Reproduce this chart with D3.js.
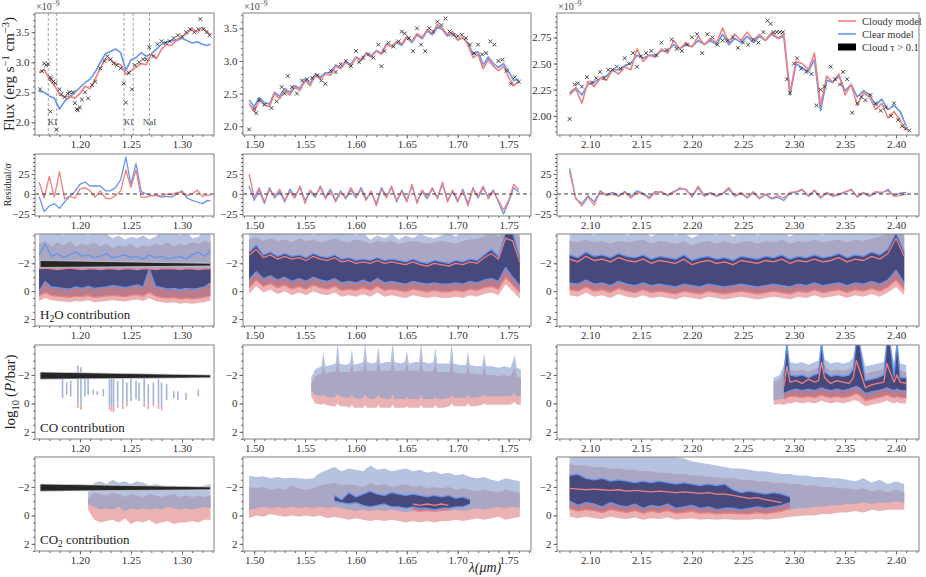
<!DOCTYPE html>
<html>
<head>
<meta charset="utf-8">
<script src="https://cdn.jsdelivr.net/npm/d3@7"></script>
<style>
  body { margin: 0; background: #fff; }
  svg text { font-family: "Liberation Serif", "DejaVu Serif", serif; }
</style>
</head>
<body>
<div id="chart"></div>
<script>
// ---------- flux models (x1e-9) ----------
var lamF1 = [1.160,1.165,1.170,1.175,1.180,1.185,1.190,1.195,1.200,1.205,1.210,1.215,1.220,1.225,1.230,1.235,1.240,1.245,1.250,1.255,1.260,1.265,1.270,1.275,1.280,1.285,1.290,1.295,1.300,1.305,1.310,1.315,1.320,1.325,1.328];
var redF1 = [2.83,2.88,2.72,2.62,2.46,2.42,2.44,2.40,2.48,2.60,2.56,2.72,2.90,3.06,3.04,2.98,2.96,2.80,2.86,2.92,2.98,2.96,3.14,3.06,3.22,3.30,3.28,3.38,3.42,3.48,3.56,3.50,3.58,3.50,3.46];
var blueF1 = [2.52,2.50,2.44,2.40,2.22,2.35,2.42,2.50,2.58,2.66,2.72,2.84,3.00,3.14,3.18,3.22,3.16,2.86,3.04,3.08,3.16,3.10,3.14,3.22,3.30,3.34,3.36,3.36,3.40,3.36,3.32,3.34,3.30,3.28,3.30];

var lamF2 = [1.495,1.500,1.505,1.510,1.515,1.520,1.525,1.530,1.535,1.540,1.545,1.550,1.555,1.560,1.565,1.570,1.575,1.580,1.585,1.590,1.595,1.600,1.605,1.610,1.615,1.620,1.625,1.630,1.635,1.640,1.645,1.650,1.655,1.660,1.665,1.670,1.675,1.680,1.685,1.690,1.695,1.700,1.705,1.710,1.715,1.720,1.725,1.730,1.735,1.740,1.745,1.750,1.755,1.760];
var redF2 = [2.35,2.22,2.40,2.33,2.30,2.50,2.42,2.55,2.48,2.60,2.55,2.70,2.62,2.78,2.72,2.80,2.78,2.92,2.88,2.98,2.92,3.05,3.00,3.12,3.06,3.15,3.10,3.25,3.22,3.30,3.26,3.38,3.30,3.42,3.36,3.48,3.42,3.56,3.50,3.40,3.45,3.32,3.36,3.25,3.05,3.10,2.88,3.02,2.92,2.85,2.92,2.75,2.62,2.70];
var blueF2 = [2.40,2.30,2.44,2.36,2.34,2.52,2.46,2.58,2.52,2.62,2.58,2.72,2.66,2.80,2.75,2.82,2.82,2.94,2.90,2.99,2.95,3.06,3.02,3.12,3.08,3.16,3.12,3.26,3.22,3.28,3.24,3.36,3.28,3.40,3.34,3.46,3.40,3.52,3.48,3.38,3.42,3.32,3.36,3.28,3.10,3.14,2.94,3.06,2.96,2.90,2.96,2.84,2.70,2.72];

var lamF3 = [2.080,2.086,2.092,2.098,2.104,2.110,2.116,2.122,2.128,2.134,2.140,2.146,2.152,2.158,2.164,2.170,2.176,2.182,2.188,2.194,2.200,2.206,2.212,2.218,2.224,2.230,2.236,2.242,2.248,2.254,2.260,2.266,2.272,2.278,2.284,2.290,2.296,2.302,2.308,2.314,2.320,2.326,2.332,2.338,2.344,2.350,2.356,2.362,2.368,2.374,2.380,2.386,2.392,2.398,2.404,2.410];
var redF3 = [2.20,2.26,2.12,2.33,2.28,2.36,2.34,2.44,2.40,2.47,2.44,2.64,2.52,2.58,2.56,2.64,2.60,2.72,2.64,2.70,2.66,2.76,2.68,2.74,2.70,2.84,2.70,2.78,2.72,2.80,2.72,2.78,2.72,2.80,2.74,2.78,2.22,2.52,2.50,2.44,2.60,2.10,2.38,2.32,2.40,2.20,2.30,2.10,2.22,2.18,2.06,2.12,1.98,2.04,1.96,1.86];
var blueF3 = [2.22,2.27,2.20,2.30,2.32,2.36,2.38,2.44,2.44,2.48,2.50,2.58,2.55,2.58,2.58,2.62,2.62,2.68,2.64,2.68,2.66,2.72,2.68,2.72,2.68,2.78,2.68,2.74,2.70,2.76,2.70,2.76,2.72,2.78,2.74,2.76,2.20,2.50,2.46,2.42,2.54,2.05,2.34,2.32,2.38,2.24,2.30,2.18,2.24,2.20,2.10,2.16,2.06,2.10,2.04,1.90];

// ---------- observed points ----------
var dataL1 = [1.161,1.163,1.165,1.167,1.169,1.171,1.171,1.172,1.174,1.176,1.177,1.180,1.182,1.185,1.188,1.190,1.193,1.195,1.197,1.198,1.200,1.202,1.205,1.208,1.212,1.215,1.220,1.224,1.227,1.230,1.233,1.236,1.240,1.243,1.245,1.248,1.251,1.254,1.258,1.262,1.265,1.268,1.272,1.276,1.280,1.284,1.288,1.292,1.296,1.300,1.304,1.308,1.312,1.316,1.318,1.321,1.324,1.327];
var dataF1 = [2.55,2.85,2.98,2.95,2.97,2.75,2.18,2.72,2.68,2.65,1.88,2.55,2.47,2.42,2.48,2.50,2.50,2.32,2.22,2.20,2.25,2.38,2.50,2.40,2.62,2.68,2.90,3.02,3.10,3.05,2.98,2.95,2.90,2.65,2.33,2.82,2.55,2.95,3.00,3.05,3.05,3.25,3.10,3.30,3.35,3.32,3.35,3.40,3.45,3.43,3.50,3.55,3.50,3.55,3.72,3.55,3.50,3.45];
var dataL2 = [1.495,1.500,1.502,1.505,1.510,1.517,1.522,1.527,1.530,1.533,1.537,1.542,1.547,1.552,1.557,1.562,1.566,1.570,1.575,1.580,1.585,1.590,1.595,1.600,1.603,1.607,1.612,1.617,1.622,1.625,1.628,1.632,1.637,1.642,1.645,1.648,1.652,1.656,1.660,1.664,1.668,1.672,1.676,1.680,1.684,1.688,1.692,1.696,1.700,1.704,1.708,1.712,1.716,1.720,1.724,1.728,1.732,1.736,1.740,1.744,1.748,1.752,1.756,1.760];
var dataF2 = [1.95,2.27,2.20,2.40,2.33,2.28,2.38,2.60,2.50,2.77,2.60,2.50,2.70,2.72,2.74,2.78,2.70,2.65,2.85,2.83,2.95,3.00,2.92,3.15,2.98,3.05,3.10,3.05,3.25,2.92,3.15,3.28,3.22,3.30,3.45,3.42,3.35,3.15,3.50,3.25,3.15,3.50,3.45,3.60,3.55,3.65,3.45,3.40,3.38,3.40,3.35,3.25,3.12,3.25,3.10,3.12,3.30,3.25,3.00,3.02,2.85,2.65,2.75,2.68];
var dataL3 = [2.080,2.085,2.088,2.092,2.097,2.102,2.106,2.110,2.114,2.118,2.122,2.126,2.130,2.134,2.138,2.142,2.146,2.150,2.155,2.160,2.165,2.170,2.175,2.180,2.185,2.190,2.195,2.200,2.205,2.210,2.215,2.220,2.225,2.230,2.235,2.240,2.245,2.250,2.255,2.260,2.265,2.270,2.274,2.277,2.280,2.283,2.286,2.289,2.293,2.296,2.300,2.303,2.307,2.312,2.317,2.322,2.326,2.330,2.336,2.340,2.345,2.348,2.352,2.357,2.362,2.366,2.370,2.375,2.380,2.385,2.390,2.395,2.398,2.402,2.406,2.410,2.413];
var dataF3 = [1.97,2.30,2.31,2.28,2.37,2.32,2.36,2.42,2.36,2.44,2.44,2.47,2.45,2.55,2.50,2.60,2.47,2.57,2.60,2.62,2.58,2.70,2.63,2.73,2.64,2.62,2.68,2.75,2.78,2.60,2.78,2.75,2.68,2.72,2.72,2.75,2.65,2.70,2.68,2.73,2.70,2.80,2.91,2.88,2.80,2.80,2.80,2.80,2.35,2.22,2.50,2.55,2.45,2.42,2.40,2.10,2.25,2.28,2.47,2.35,2.30,2.42,2.35,2.03,2.12,2.18,2.15,2.20,2.12,2.05,2.08,2.00,2.12,1.96,1.90,1.88,1.86];

// ---------- residuals ----------
var redR1 = [15,-5,22,-4,28,-6,-3,-5,6,8,4,-4,4,-5,-6,-2,4,30,8,30,-4,-4,-2,-1,-3,0,-1,2,2,-2,0,5,-3,-1,-2];
var blueR1 = [-3,-22,-15,-12,-18,-10,-3,3,12,15,10,10,10,4,4,8,18,46,12,38,3,0,-2,-2,-4,-3,-4,0,4,-5,-8,-10,-12,-8,-9];
var redR2 = [25,-4,8,-10,5,-3,6,-8,3,-5,10,-12,5,-2,8,-6,4,-10,2,-4,8,-3,5,-8,4,-15,6,-5,10,-8,3,-10,12,-12,5,-4,8,-6,15,-10,5,-8,4,-15,6,-3,10,-6,3,-8,-20,-8,12,5];
var blueR2 = [10,-8,5,-12,8,-5,3,-10,6,-3,8,-8,3,-4,10,-4,6,-8,4,-6,5,-5,8,-6,2,-12,8,-3,8,-10,5,-8,10,-10,3,-6,6,-4,12,-8,3,-10,6,-12,8,-5,8,-4,5,-10,-25,-10,8,2];
var redR3 = [28,-5,-15,-4,-14,3,-2,0,-3,2,-5,2,0,-6,2,3,-2,2,8,5,-3,10,-2,2,-2,1,8,-2,2,-4,3,-5,0,-5,-2,-5,2,3,6,-2,5,-4,2,-2,0,3,5,-3,2,-2,3,2,4,-3,-2,0];
var blueR3 = [32,-6,-12,-2,-10,4,-1,2,-2,3,-3,4,1,-4,3,2,-1,3,6,6,-4,8,-3,1,-3,0,6,-3,1,-5,2,-6,-1,-6,-4,-8,1,2,5,-3,4,-5,1,-3,-1,2,6,-4,1,-3,2,1,6,-2,1,2];

// ---------- contribution functions, log10(P/bar) ----------
var lamK1 = [1.160,1.166,1.172,1.178,1.184,1.190,1.196,1.202,1.208,1.214,1.220,1.226,1.232,1.238,1.244,1.250,1.256,1.262,1.268,1.274,1.280,1.286,1.292,1.298,1.304,1.310,1.316,1.322,1.328];
var lamK2 = [1.495,1.502,1.509,1.516,1.523,1.530,1.537,1.544,1.551,1.558,1.565,1.572,1.579,1.586,1.593,1.600,1.607,1.614,1.621,1.628,1.635,1.642,1.649,1.656,1.663,1.670,1.677,1.684,1.691,1.698,1.705,1.712,1.719,1.726,1.733,1.740,1.747,1.754,1.761];
var lamK3 = [2.080,2.088,2.096,2.104,2.112,2.120,2.128,2.136,2.144,2.152,2.160,2.168,2.176,2.184,2.192,2.200,2.208,2.216,2.224,2.232,2.240,2.248,2.256,2.264,2.272,2.280,2.288,2.296,2.304,2.312,2.320,2.328,2.336,2.344,2.352,2.360,2.368,2.376,2.384,2.392,2.400,2.408];

// H2O
var h2oA_bOut1 = [-4.3,-4.3,-4.1,-4.3,-4.0,-4.3,-4.2,-4.3,-4.0,-4.3,-4.3,-4.1,-3.8,-4.0,-3.7,-3.9,-3.8,-4.0,-3.7,-3.9,-4.3,-4.2,-4.3,-4.0,-4.3,-3.8,-3.9,-4.3,-4.3];
var h2oA_rOut1 = [-3.4,-3.6,-3.2,-3.5,-3.3,-3.6,-3.2,-3.4,-3.3,-3.5,-3.2,-3.4,-3.1,-3.3,-3.2,-3.4,-3.1,-3.3,-3.2,-3.4,-3.3,-3.5,-3.2,-3.4,-3.3,-3.5,-3.4,-3.6,-3.5];
var h2oA_bIn1 = [-2.6,-3.4,-2.5,-2.7,-2.4,-2.6,-2.8,-2.5,-2.6,-2.4,-2.5,-2.7,-2.4,-2.5,-2.6,-2.4,-2.5,-2.3,-2.6,-2.4,-2.5,-2.3,-2.4,-2.5,-2.3,-2.6,-2.8,-2.5,-2.9];
var h2oA_rIn1 = [-1.6,-1.65,-1.6,-1.55,-1.6,-1.65,-1.6,-1.55,-1.6,-1.6,-1.55,-1.6,-1.6,-1.55,-1.6,-1.6,-1.55,-1.6,-1.6,-1.55,-1.6,-1.6,-1.6,-1.55,-1.6,-1.6,-1.55,-1.6,-1.6];
var h2oA_bIn2 = [0.0,-0.7,-0.3,-0.25,-0.2,-0.15,-0.3,-0.2,-0.35,-0.2,-0.25,-0.3,-0.4,-0.35,-0.25,-0.35,-0.45,-0.3,-1.6,-0.35,-0.25,-0.15,-0.2,-0.1,-0.2,-0.15,-0.2,-0.3,-0.6];
var h2oA_rIn2 = [0.35,0.1,0.3,0.35,0.4,0.45,0.35,0.4,0.3,0.45,0.4,0.35,0.3,0.35,0.4,0.3,0.25,0.35,0.1,0.35,0.45,0.5,0.45,0.55,0.5,0.55,0.5,0.45,0.3];
var h2oA_rOut2 = [0.7,0.5,0.65,0.7,0.75,0.8,0.7,0.75,0.65,0.8,0.75,0.7,0.65,0.7,0.75,0.65,0.6,0.7,0.5,0.7,0.8,0.85,0.8,0.9,0.85,0.9,0.85,0.8,0.65];

var h2oB_bOut1 = [-4.3,-4.3,-4.2,-4.3,-4.1,-4.3,-4.2,-4.3,-4.3,-4.0,-4.3,-4.2,-4.3,-4.1,-4.3,-4.0,-4.2,-3.7,-4.0,-3.8,-4.1,-3.7,-4.0,-3.8,-4.1,-3.9,-3.8,-4.0,-4.2,-3.9,-4.3,-4.3,-4.2,-4.3,-4.3,-4.3,-4.3,-4.3,-4.3];
var h2oB_rOut1 = [-3.7,-3.9,-3.6,-3.8,-3.6,-3.7,-3.5,-3.8,-3.6,-3.7,-3.5,-3.6,-3.8,-3.6,-3.5,-3.7,-3.6,-3.4,-3.6,-3.5,-3.6,-3.4,-3.5,-3.6,-3.5,-3.4,-3.5,-3.6,-3.5,-3.4,-3.6,-3.7,-3.8,-3.9,-4.2,-3.9,-4.3,-4.2,-3.9];
var h2oB_bIn1 = [-2.8,-3.3,-2.6,-2.8,-2.5,-2.7,-2.5,-2.6,-2.4,-2.7,-2.5,-2.4,-2.6,-2.3,-2.4,-2.2,-2.3,-2.2,-2.4,-2.2,-2.3,-2.2,-2.1,-2.3,-2.1,-2.0,-2.2,-2.1,-2.0,-2.2,-2.1,-2.3,-2.2,-2.6,-3.0,-2.5,-4.2,-4.2,-2.4];
var h2oB_rIn1 = [-2.6,-3.0,-2.4,-2.6,-2.3,-2.5,-2.3,-2.4,-2.2,-2.5,-2.3,-2.2,-2.4,-2.1,-2.2,-2.0,-2.1,-2.0,-2.2,-2.0,-2.1,-2.0,-1.9,-2.1,-1.9,-1.8,-2.0,-1.9,-1.8,-2.0,-1.9,-2.1,-2.0,-2.4,-2.7,-2.3,-3.8,-3.6,-2.1];
var h2oB_bIn2 = [-0.8,-1.4,-0.9,-1.1,-0.8,-1.0,-0.7,-0.9,-0.7,-1.0,-0.8,-0.7,-0.9,-0.6,-0.7,-0.6,-0.8,-0.6,-0.9,-0.6,-0.7,-0.6,-0.5,-0.7,-0.6,-0.5,-0.6,-0.5,-0.5,-0.6,-0.5,-0.7,-0.6,-0.8,-0.9,-0.7,-1.7,-1.0,-0.4];
var h2oB_rIn2 = [-0.25,-0.8,-0.35,-0.55,-0.25,-0.45,-0.15,-0.35,-0.15,-0.45,-0.25,-0.15,-0.35,-0.05,-0.15,-0.05,-0.25,-0.05,-0.35,-0.05,-0.15,-0.05,0.05,-0.15,-0.05,0.05,-0.05,0.05,0.05,-0.05,0.05,-0.15,-0.05,-0.25,-0.35,-0.15,-1.0,-0.45,0.1];
var h2oB_rOut2 = [0.2,-0.35,0.1,-0.1,0.2,0.0,0.3,0.1,0.3,0.0,0.2,0.3,0.1,0.4,0.3,0.4,0.2,0.4,0.1,0.4,0.3,0.4,0.5,0.3,0.4,0.5,0.4,0.5,0.5,0.4,0.5,0.3,0.4,0.2,0.1,0.3,-0.5,0.0,0.55];

var h2oC_bOut1 = [-4.3,-4.2,-4.3,-4.0,-4.3,-4.1,-4.3,-4.0,-4.2,-4.3,-3.9,-4.2,-4.3,-4.0,-4.2,-3.8,-4.1,-4.3,-4.0,-4.3,-3.9,-4.2,-4.3,-4.0,-4.3,-4.2,-4.3,-3.9,-4.3,-4.1,-4.3,-4.0,-4.3,-4.3,-4.1,-4.3,-4.2,-4.3,-4.3,-4.3,-4.3,-4.3];
var h2oC_rOut1 = [-3.6,-3.5,-3.7,-3.5,-3.6,-3.4,-3.6,-3.5,-3.6,-3.7,-3.4,-3.6,-3.5,-3.4,-3.6,-3.3,-3.5,-3.6,-3.4,-3.6,-3.4,-3.5,-3.6,-3.4,-3.6,-3.5,-3.7,-3.4,-3.6,-3.5,-3.7,-3.5,-3.6,-3.7,-3.5,-3.7,-3.6,-3.8,-3.9,-4.1,-4.3,-4.0];
var h2oC_bIn1 = [-2.6,-2.4,-2.8,-2.5,-2.6,-2.4,-2.7,-2.5,-2.4,-2.6,-2.3,-2.5,-2.4,-2.3,-2.6,-2.2,-2.4,-2.5,-2.3,-2.4,-2.2,-2.5,-2.4,-2.3,-2.5,-2.4,-2.6,-2.3,-2.5,-2.4,-2.6,-2.4,-2.5,-2.7,-2.4,-2.6,-2.5,-2.8,-2.6,-3.0,-4.2,-2.8];
var h2oC_rIn1 = [-2.3,-2.1,-2.5,-2.2,-2.3,-2.1,-2.4,-2.2,-2.1,-2.3,-2.0,-2.2,-2.1,-2.0,-2.3,-1.9,-2.1,-2.2,-2.0,-2.1,-1.9,-2.2,-2.1,-2.0,-2.2,-2.1,-2.3,-2.0,-2.2,-2.1,-2.3,-2.1,-2.2,-2.4,-2.1,-2.3,-2.2,-2.5,-2.3,-2.7,-3.8,-2.5];
var h2oC_bIn2 = [-0.6,-0.5,-0.8,-0.5,-0.6,-0.4,-0.7,-0.5,-0.4,-0.6,-0.4,-0.5,-0.4,-0.3,-0.5,-0.4,-0.3,-0.5,-0.4,-0.3,-0.4,-0.5,-0.4,-0.3,-0.4,-0.5,-0.4,-0.3,-0.5,-0.4,-0.6,-0.4,-0.5,-0.6,-0.4,-0.6,-0.5,-0.7,-0.5,-0.8,-1.5,-0.6];
var h2oC_rIn2 = [-0.1,0.0,-0.3,0.0,-0.1,0.1,-0.2,0.0,0.1,-0.1,0.1,0.0,0.1,0.2,0.0,0.1,0.2,0.0,0.1,0.2,0.1,0.0,0.1,0.2,0.1,0.0,0.1,0.2,0.0,0.1,-0.1,0.1,0.0,-0.1,0.1,-0.1,0.0,-0.2,0.0,-0.3,-0.8,-0.1];
var h2oC_rOut2 = [0.3,0.4,0.1,0.4,0.3,0.5,0.2,0.4,0.5,0.3,0.5,0.4,0.5,0.6,0.4,0.5,0.6,0.4,0.5,0.6,0.5,0.4,0.5,0.6,0.5,0.4,0.5,0.6,0.4,0.5,0.3,0.5,0.4,0.3,0.5,0.3,0.4,0.2,0.4,0.1,-0.3,0.3];

// CO
var coA_lam = [1.183,1.187,1.191,1.198,1.201,1.205,1.208,1.213,1.217,1.223,1.229,1.231,1.233,1.237,1.242,1.246,1.250,1.255,1.258,1.263,1.267,1.272,1.277,1.280,1.285,1.292,1.296,1.304,1.316];
var coA_top = [-1.76,-1.46,-1.59,-2.66,-2.54,-1.71,-1.76,-0.98,-0.85,-1.02,-1.71,-1.83,-1.71,-1.59,-1.71,-1.46,-1.76,-1.59,-1.46,-1.71,-1.34,-1.46,-1.71,-1.46,-1.34,-0.85,-0.85,-0.73,-0.98];
var coA_bot = [-0.37,-0.59,-0.49,0.0,0.1,-0.49,-0.61,-0.61,-0.61,-0.49,0.1,0.2,0.25,0.0,0.1,-0.1,-0.17,-0.29,-0.17,-0.05,0.1,-0.1,0.1,0.2,-0.24,-0.37,-0.24,-0.24,-0.49];
var coA_red = [null,null,null,0.3,0.45,null,null,null,null,null,0.45,0.55,0.6,0.3,0.4,0.2,null,null,null,0.25,0.4,0.2,0.4,0.5,null,null,null,null,null];

var coB_lam = [1.556,1.560,1.566,1.568,1.570,1.576,1.580,1.582,1.584,1.590,1.594,1.596,1.598,1.603,1.607,1.609,1.611,1.616,1.620,1.622,1.624,1.630,1.634,1.636,1.638,1.644,1.648,1.650,1.652,1.658,1.662,1.664,1.666,1.672,1.676,1.678,1.680,1.686,1.692,1.694,1.696,1.702,1.708,1.710,1.712,1.718,1.724,1.726,1.728,1.734,1.740,1.746,1.752,1.756,1.758,1.762];
var coB_bOut1 = [-1.8,-2.4,-2.6,-3.6,-2.6,-2.7,-2.8,-4.3,-2.8,-2.7,-2.8,-3.8,-2.7,-2.8,-2.9,-4.3,-2.9,-2.8,-2.9,-4.0,-2.8,-2.9,-2.9,-4.3,-2.9,-2.8,-2.9,-3.7,-2.8,-2.9,-2.9,-4.3,-2.9,-2.8,-2.9,-3.9,-2.8,-2.8,-2.8,-4.3,-2.8,-2.7,-2.7,-3.6,-2.7,-2.6,-2.6,-3.5,-2.6,-2.6,-2.5,-2.6,-2.5,-3.4,-2.5,-2.4];
var coB_rOut1 = [-1.4,-1.9,-2.1,-2.7,-2.1,-2.2,-2.2,-3.0,-2.2,-2.2,-2.2,-2.8,-2.2,-2.3,-2.3,-3.1,-2.3,-2.3,-2.3,-2.9,-2.3,-2.3,-2.3,-3.1,-2.3,-2.3,-2.3,-2.8,-2.3,-2.3,-2.3,-3.1,-2.3,-2.2,-2.3,-2.9,-2.2,-2.2,-2.2,-3.0,-2.2,-2.1,-2.1,-2.7,-2.1,-2.1,-2.0,-2.6,-2.0,-2.0,-1.9,-2.0,-1.9,-2.5,-1.9,-1.8];
var coB_bOut2 = [-0.9,-0.6,-0.5,-0.6,-0.5,-0.4,-0.5,-0.7,-0.5,-0.4,-0.4,-0.6,-0.4,-0.3,-0.4,-0.6,-0.4,-0.3,-0.4,-0.6,-0.4,-0.3,-0.3,-0.6,-0.3,-0.3,-0.3,-0.5,-0.3,-0.3,-0.3,-0.6,-0.3,-0.3,-0.3,-0.5,-0.3,-0.3,-0.4,-0.6,-0.4,-0.4,-0.4,-0.6,-0.4,-0.4,-0.5,-0.6,-0.5,-0.5,-0.5,-0.5,-0.5,-0.7,-0.5,-0.5];
var coB_rOut2 = [-0.5,0.0,0.1,0.0,0.1,0.2,0.2,0.0,0.2,0.2,0.3,0.1,0.3,0.3,0.3,0.1,0.3,0.3,0.3,0.1,0.3,0.3,0.3,0.1,0.3,0.3,0.3,0.2,0.3,0.3,0.3,0.1,0.3,0.3,0.3,0.1,0.3,0.3,0.2,0.0,0.2,0.2,0.2,0.0,0.2,0.2,0.1,0.0,0.1,0.1,0.1,0.1,0.1,-0.1,0.1,0.1];

var coC_lam = [2.280,2.286,2.290,2.293,2.296,2.302,2.308,2.314,2.320,2.324,2.327,2.330,2.336,2.342,2.348,2.354,2.358,2.361,2.364,2.370,2.376,2.382,2.388,2.391,2.394,2.398,2.401,2.404,2.410];
var coC_bOut1 = [-1.8,-2.0,-2.7,-4.3,-2.9,-2.8,-2.9,-2.7,-2.9,-3.0,-4.3,-3.1,-2.8,-2.9,-2.8,-2.9,-3.2,-4.3,-4.3,-2.6,-2.7,-2.8,-2.9,-4.3,-4.3,-2.8,-4.3,-2.8,-2.7];
var coC_rOut1 = [-1.5,-1.7,-2.2,-3.0,-2.3,-2.3,-2.4,-2.2,-2.4,-2.5,-3.2,-2.6,-2.3,-2.4,-2.3,-2.4,-2.6,-3.3,-3.0,-2.1,-2.2,-2.3,-2.4,-3.2,-3.0,-2.3,-3.2,-2.3,-2.2];
var coC_bIn1 = [null,null,-1.9,-4.3,-2.0,-1.9,-2.0,-1.8,-2.0,-2.1,-4.3,-2.2,-1.9,-2.0,-1.9,-2.0,-2.4,-4.3,-4.3,-1.6,-1.7,-1.8,-2.0,-4.3,-4.3,-1.9,-4.3,-1.8,-1.8];
var coC_rIn1 = [null,null,-1.2,-2.6,-1.5,-1.6,-1.4,-1.7,-1.5,-1.6,-2.9,-1.8,-1.4,-1.6,-1.5,-1.4,-1.8,-3.0,-2.4,-1.1,-1.3,-1.4,-1.5,-2.8,-2.2,-1.5,-2.0,-1.5,-1.4];
var coC_bIn2 = [null,null,-0.7,-0.8,-0.9,-1.0,-0.9,-1.0,-0.9,-1.0,-1.1,-1.0,-0.9,-1.0,-0.9,-1.0,-1.1,-1.2,-1.1,-0.7,-0.8,-0.9,-1.0,-1.1,-1.0,-0.9,-1.0,-0.9,-0.9];
var coC_rIn2 = [null,null,-0.3,-0.4,-0.5,-0.5,-0.4,-0.5,-0.4,-0.5,-0.6,-0.5,-0.4,-0.5,-0.4,-0.5,-0.6,-0.7,-0.6,-0.2,-0.3,-0.4,-0.5,-0.6,-0.5,-0.4,-0.5,-0.4,-0.4];
var coC_bOut2 = [-0.2,-0.3,-0.3,-0.4,-0.5,-0.5,-0.4,-0.5,-0.4,-0.5,-0.6,-0.5,-0.4,-0.5,-0.4,-0.5,-0.6,-0.7,-0.6,-0.2,-0.3,-0.4,-0.5,-0.6,-0.5,-0.4,-0.5,-0.4,-0.4];
var coC_rOut2 = [0.1,0.05,0.1,0.0,0.0,-0.1,0.0,-0.1,0.0,-0.1,-0.2,-0.1,0.0,-0.1,0.0,-0.1,-0.2,-0.2,-0.1,0.2,0.1,0.0,-0.1,-0.2,-0.1,0.0,-0.1,0.0,0.0];

// CO2
var co2A_lam = [1.208,1.214,1.220,1.226,1.232,1.238,1.244,1.250,1.256,1.262,1.268,1.274,1.280,1.286,1.292,1.298,1.304,1.310,1.316,1.322,1.328];
var co2A_bOut1 = [-1.6,-2.3,-2.4,-2.2,-2.5,-2.3,-2.4,-2.2,-2.4,-2.3,-2.1,-2.2,-2.1,-2.0,-2.1,-2.0,-2.1,-1.9,-2.0,-2.1,-2.2];
var co2A_rOut1 = [-1.2,-1.6,-1.5,-1.4,-1.6,-1.5,-1.3,-1.5,-1.4,-1.3,-1.5,-1.4,-1.3,-1.4,-1.5,-1.3,-1.4,-1.3,-1.4,-1.3,-1.4];
var co2A_bOut2 = [-0.8,-0.6,-0.4,-0.5,-0.4,-0.6,-0.3,-0.5,-0.4,-0.5,-0.4,-0.5,-0.4,-0.6,-0.5,-0.4,-0.5,-0.4,-0.5,-0.6,-0.5];
var co2A_rOut2 = [-0.4,0.3,0.5,0.4,0.3,0.5,0.2,0.6,0.4,0.5,0.3,0.6,0.5,0.4,0.6,0.5,0.5,0.4,0.5,0.3,0.3];

var co2B_bOut1 = [-2.8,-2.7,-2.75,-2.6,-2.7,-2.6,-2.65,-2.6,-2.55,-2.6,-3.0,-3.2,-3.4,-3.1,-3.3,-3.2,-3.1,-3.5,-3.2,-3.3,-3.1,-3.2,-3.3,-3.1,-3.2,-3.0,-3.1,-2.9,-3.0,-2.8,-2.9,-2.7,-2.6,-2.7,-2.5,-2.4,-2.6,-2.5,-2.4];
var co2B_rOut1 = [-2.0,-1.9,-2.0,-1.8,-1.9,-1.8,-2.1,-1.9,-1.8,-1.9,-2.1,-2.2,-2.3,-2.1,-2.2,-2.1,-2.0,-2.3,-2.1,-2.2,-2.0,-2.1,-2.2,-2.0,-2.1,-1.9,-2.0,-1.9,-2.0,-1.8,-1.9,-1.8,-1.7,-1.8,-1.7,-1.6,-1.8,-1.7,-1.6];
var co2B_bOut2 = [-0.4,-0.5,-0.6,-0.5,-0.6,-0.5,-0.6,-0.5,-0.6,-0.5,-0.6,-0.5,-0.6,-0.5,-0.4,-0.3,-0.4,-0.3,-0.4,-0.3,-0.4,-0.3,-0.2,-0.3,-0.2,-0.3,-0.2,-0.3,-0.3,-0.4,-0.3,-0.4,-0.5,-0.4,-0.5,-0.6,-0.5,-0.6,-0.5];
var co2B_rOut2 = [0.2,0.0,0.1,-0.1,0.0,0.1,0.0,0.1,0.0,0.1,0.0,0.2,0.1,0.2,0.3,0.2,0.3,0.4,0.3,0.4,0.3,0.4,0.5,0.4,0.5,0.4,0.5,0.4,0.4,0.3,0.4,0.3,0.2,0.3,0.2,0.1,0.3,0.2,0.1];
var co2B_lamIn = [1.579,1.586,1.593,1.600,1.607,1.614,1.621,1.628,1.635,1.642,1.649,1.656,1.663,1.670,1.677,1.684,1.691,1.698,1.705,1.712];
var co2B_bIn1 = [-1.4,-1.1,-1.6,-1.3,-1.5,-1.7,-1.5,-1.4,-1.6,-1.5,-1.4,-1.5,-1.4,-1.3,-1.4,-1.3,-1.4,-1.2,-1.3,-1.1];
var co2B_bIn2 = [-1.0,-0.9,-0.8,-0.9,-0.7,-0.6,-0.7,-0.8,-0.6,-0.6,-0.5,-0.6,-0.5,-0.5,-0.4,-0.5,-0.5,-0.6,-0.6,-0.8];
var co2B_rIn1 = [null,null,null,null,null,null,null,null,null,null,null,-0.8,-0.7,-0.8,-0.7,-0.8,-0.7,null,null,null];
var co2B_rIn2 = [null,null,null,null,null,null,null,null,null,null,null,-0.4,-0.3,-0.35,-0.3,-0.35,-0.4,null,null,null];

var co2C_bOut1 = [-4.3,-4.3,-4.3,-4.3,-4.3,-4.3,-4.3,-4.3,-4.2,-4.2,-4.2,-4.2,-4.1,-4.1,-4.0,-3.8,-3.7,-3.6,-3.5,-3.4,-3.3,-3.3,-3.2,-3.1,-3.1,-3.0,-2.9,-2.9,-2.8,-2.8,-2.7,-2.7,-2.6,-2.6,-2.5,-2.4,-2.6,-2.3,-2.5,-2.2,-2.4,-2.2];
var co2C_rOut1 = [-3.6,-3.5,-3.5,-3.4,-3.4,-3.3,-3.3,-3.2,-3.2,-3.1,-3.1,-3.0,-3.0,-2.9,-2.9,-2.8,-2.8,-2.7,-2.7,-2.6,-2.6,-2.5,-2.5,-2.4,-2.4,-2.3,-2.3,-2.2,-2.2,-2.1,-2.1,-2.0,-2.0,-1.9,-1.9,-1.8,-1.9,-1.7,-1.8,-1.6,-1.8,-1.6];
var co2C_bOut2 = [-0.4,-0.3,-0.4,-0.3,-0.2,-0.4,-0.3,-0.2,-0.3,-0.2,-0.3,-0.2,-0.3,-0.2,-0.2,-0.3,-0.2,-0.2,-0.1,-0.2,-0.2,-0.1,-0.1,-0.2,-0.2,-0.2,-0.3,-0.4,-0.5,-0.5,-0.6,-0.6,-0.7,-0.7,-0.8,-0.8,-0.9,-0.8,-0.9,-0.9,-1.0,-0.9];
var co2C_rOut2 = [0.1,0.2,0.1,0.2,0.25,0.1,0.2,0.25,0.15,0.3,0.2,0.25,0.15,0.3,0.25,0.2,0.3,0.25,0.3,0.25,0.3,0.3,0.3,0.25,0.3,0.25,0.2,0.1,0.05,0.0,0.0,-0.1,-0.1,-0.2,-0.2,-0.3,-0.2,-0.4,-0.3,-0.4,-0.4,-0.4];
var co2C_bIn1 = [-2.8,-2.9,-2.6,-2.5,-2.6,-2.4,-2.5,-2.4,-2.3,-2.4,-2.3,-2.4,-2.3,-2.2,-2.3,-2.2,-2.1,-2.2,-2.1,-2.2,-1.8,-1.6,-1.7,-1.6,-1.5,-1.6,-1.5,-1.3];
var co2C_rIn1 = [-1.9,-1.85,-1.8,-1.85,-1.8,-1.75,-1.8,-1.7,-1.75,-1.7,-1.65,-1.7,-1.65,-1.6,-1.65,-1.6,-1.55,-1.6,-1.5,-1.5,-1.4,-1.3,-1.2,-1.25,-1.1,-1.0,-0.9];
var co2C_bIn2 = [-1.0,-0.7,-0.9,-0.8,-0.6,-0.9,-0.7,-0.6,-0.8,-0.5,-0.7,-0.6,-0.8,-0.5,-0.6,-0.7,-0.5,-0.6,-0.4,-0.5,-0.5,-0.4,-0.5,-0.6,-0.5,-0.6,-0.7,-0.9];
var co2C_rIn2 = [-0.5,-0.3,-0.4,-0.35,-0.2,-0.4,-0.3,-0.2,-0.35,-0.15,-0.3,-0.2,-0.35,-0.15,-0.2,-0.3,-0.15,-0.2,-0.1,-0.15,-0.15,-0.1,-0.1,-0.2,-0.1,-0.2,-0.3,-0.5];

// cloud tau>0.1 band (col 1)
var cloudLam = [1.161, 1.328];
var cloudTop = [-2.2, -2.0];
var cloudBot = [-1.7, -1.8];

// line markers
var lineLam = [1.1690, 1.1773, 1.2432, 1.2522, 1.2682];
var lineLabel = ["KI", "KI", "NaI"];
var lineLabelLam = [1.1731, 1.2477, 1.2682];

var legendText = ["Cloudy model", "Clear model", "Cloud \u03c4 > 0.1"];

// ---------- layout ----------
var blue = "#6495ED", red = "#F08080";
var cLight = "#b5c3e1", cLav = "#aaa7c4", cPink = "#ebb1b3", cRose = "#b97c8c", cNavy = "#47487b";
var fontFam = '"Liberation Serif", "DejaVu Serif", serif';

var cols = [
  {x0: 35, x1: 214, dom: [1.156, 1.3314], ticks: [1.20, 1.25, 1.30]},
  {x0: 243, x1: 531, dom: [1.489, 1.772], ticks: [1.50, 1.55, 1.60, 1.65, 1.70, 1.75]},
  {x0: 557, x1: 919, dom: [2.0676, 2.4225], ticks: [2.10, 2.15, 2.20, 2.25, 2.30, 2.35, 2.40]}
];
var rows = [{y0: 13, y1: 135}, {y0: 154, y1: 216}, {y0: 234, y1: 326}, {y0: 345, y1: 439}, {y0: 457, y1: 551}];

var svg = d3.select("#chart").append("svg")
  .attr("width", 926)
  .attr("height", 577);

function makePanel(r, c, ydom, yticks, yfmt, yminor) {
  var C = cols[c], R = rows[r], p = {};
  p.x = d3.scaleLinear().domain(C.dom).range([C.x0, C.x1]);
  p.y = d3.scaleLinear().domain(ydom).range([R.y1, R.y0]);
  var id = "clip" + r + "_" + c;
  svg.append("clipPath").attr("id", id).append("rect")
    .attr("x", C.x0).attr("y", R.y0).attr("width", C.x1 - C.x0).attr("height", R.y1 - R.y0);
  p.g = svg.append("g").attr("clip-path", "url(#" + id + ")");
  p.top = svg.append("g");
  var ax = svg.append("g").attr("color", "#666");

  var xmin = d3.range(Math.ceil(C.dom[0] * 100 - 1e-6), Math.floor(C.dom[1] * 100 + 1e-6) + 1)
    .map(function(d) { return d / 100; });
  ax.append("g").attr("transform", "translate(0," + R.y1 + ")")
    .call(d3.axisBottom(p.x).tickValues(xmin).tickSize(2).tickFormat(""));
  ax.append("g").attr("transform", "translate(0," + R.y1 + ")")
    .call(d3.axisBottom(p.x).tickValues(C.ticks).tickSize(3.5).tickPadding(2).tickFormat(d3.format(".2f")));

  var lo = Math.min(ydom[0], ydom[1]), hi = Math.max(ydom[0], ydom[1]);
  var ymin = d3.range(Math.ceil(lo / yminor - 1e-6), Math.floor(hi / yminor + 1e-6) + 1)
    .map(function(d) { return d * yminor; });
  ax.append("g").attr("transform", "translate(" + C.x0 + ",0)")
    .call(d3.axisLeft(p.y).tickValues(ymin).tickSize(2).tickFormat(""));
  ax.append("g").attr("transform", "translate(" + C.x0 + ",0)")
    .call(d3.axisLeft(p.y).tickValues(yticks).tickSize(3.5).tickPadding(2).tickFormat(d3.format(yfmt)));

  ax.selectAll(".domain").remove();
  ax.selectAll("text").attr("font-size", 11).attr("font-family", fontFam).attr("fill", "#333");
  ax.append("rect")
    .attr("x", C.x0).attr("y", R.y0)
    .attr("width", C.x1 - C.x0).attr("height", R.y1 - R.y0)
    .attr("fill", "none").attr("stroke", "#808080").attr("stroke-width", 1);
  return p;
}

function drawLine(p, lam, vals, color, w) {
  p.g.append("path")
    .attr("d", d3.line()
      .defined(function(d, i) { return vals[i] != null; })
      .x(function(d) { return p.x(d); })
      .y(function(d, i) { return p.y(vals[i]); })(lam))
    .attr("fill", "none")
    .attr("stroke", color)
    .attr("stroke-width", w)
    .attr("stroke-linejoin", "round");
}

function fillBand(p, lam, top, bot, color) {
  if (!top || !bot) return;
  p.g.append("path")
    .attr("d", d3.area()
      .defined(function(d, i) { return top[i] != null && bot[i] != null; })
      .x(function(d) { return p.x(d); })
      .y0(function(d, i) { return p.y(top[i]); })
      .y1(function(d, i) { return p.y(bot[i]); })(lam))
    .attr("fill", color);
}

// navyTop: which curve starts the dark overlap (blue inner top by default)
function contrib(p, lamO, bOut1, rOut1, bOut2, rOut2, lamI, bIn1, bIn2, rIn1, rIn2, navyTop) {
  fillBand(p, lamO, bOut1, bOut2, cLight);
  fillBand(p, lamO, rOut1, rOut2, cPink);
  fillBand(p, lamO, rOut1, bOut2, cLav);
  if (!lamI) return;
  fillBand(p, lamI, bIn2, rIn2, cRose);
  fillBand(p, lamI, navyTop || bIn1, bIn2, cNavy);
  if (bIn1) drawLine(p, lamI, bIn1, blue, 1.3);
  if (bIn2) drawLine(p, lamI, bIn2, blue, 1.3);
  if (rIn1) drawLine(p, lamI, rIn1, red, 1.3);
  if (rIn2) drawLine(p, lamI, rIn2, red, 1.3);
}

function markers(p, L, F) {
  p.top.selectAll(null).data(L).enter().append("path")
    .attr("d", function(d, i) {
      var cx = p.x(d), cy = p.y(F[i]), s = 1.9;
      return "M" + (cx - s) + "," + (cy - s) + "L" + (cx + s) + "," + (cy + s) +
             "M" + (cx - s) + "," + (cy + s) + "L" + (cx + s) + "," + (cy - s);
    })
    .attr("stroke", "#333")
    .attr("stroke-width", 0.9);
}

function cloudBand(p) {
  p.g.append("path")
    .attr("d", d3.area()
      .x(function(d) { return p.x(d); })
      .y0(function(d, i) { return p.y(cloudTop[i]); })
      .y1(function(d, i) { return p.y(cloudBot[i]); })(cloudLam))
    .attr("fill", "#262626")
    .attr("stroke", "#d8d8d8")
    .attr("stroke-width", 0.7);
}

// ---------- row 1: flux ----------
var fluxDom = [[1.79, 3.82], [1.865, 3.735], [1.817, 2.983]];
var fluxTicks = [[2.0, 2.5, 3.0, 3.5], [2.0, 2.5, 3.0, 3.5], [2.00, 2.25, 2.50, 2.75]];
var fluxFmt = [".1f", ".1f", ".2f"];
var fluxMinor = [0.1, 0.1, 0.05];
var fluxSets = [[lamF1, redF1, blueF1, dataL1, dataF1], [lamF2, redF2, blueF2, dataL2, dataF2], [lamF3, redF3, blueF3, dataL3, dataF3]];

fluxSets.forEach(function(s, c) {
  var p = makePanel(0, c, fluxDom[c], fluxTicks[c], fluxFmt[c], fluxMinor[c]);
  if (c === 0) {
    lineLam.forEach(function(l) {
      p.g.append("line")
        .attr("x1", p.x(l)).attr("x2", p.x(l))
        .attr("y1", rows[0].y0).attr("y2", rows[0].y1)
        .attr("stroke", "#999").attr("stroke-width", 0.9).attr("stroke-dasharray", "3,2");
    });
    lineLabel.forEach(function(t, i) {
      p.top.append("text")
        .attr("x", p.x(lineLabelLam[i])).attr("y", 125)
        .attr("text-anchor", "middle").attr("font-size", 9).attr("fill", "#444")
        .text(t);
    });
  }
  drawLine(p, s[0], s[2], blue, 1.6);
  drawLine(p, s[0], s[1], red, 1.6);
  markers(p, s[3], s[4]);
  var t = svg.append("text")
    .attr("x", cols[c].x0 + 1).attr("y", 10)
    .attr("font-size", 10).attr("fill", "#444")
    .text("\u00d710");
  t.append("tspan").attr("dy", -4).attr("font-size", 7.5).text("\u22129");
});

// legend
var leg = svg.append("g");
legendText.forEach(function(t, i) {
  var yy = 21 + i * 13;
  if (i < 2) {
    leg.append("line").attr("x1", 838).attr("x2", 856).attr("y1", yy).attr("y2", yy)
      .attr("stroke", i === 0 ? red : blue).attr("stroke-width", 1.6);
  } else {
    leg.append("rect").attr("x", 838).attr("y", yy - 3.5).attr("width", 18).attr("height", 7).attr("fill", "#000");
  }
  leg.append("text").attr("x", 862).attr("y", yy + 3.5)
    .attr("font-size", 10.5).attr("fill", "#333").text(t);
});

// ---------- row 2: residuals ----------
var resSets = [[lamF1, redR1, blueR1], [lamF2, redR2, blueR2], [lamF3, redR3, blueR3]];
resSets.forEach(function(s, c) {
  var p = makePanel(1, c, [-27.5, 50], [-25, 0, 25], "d", 5);
  drawLine(p, s[0], s[2], blue, 1.3);
  drawLine(p, s[0], s[1], red, 1.3);
  p.top.append("line")
    .attr("x1", cols[c].x0).attr("x2", cols[c].x1)
    .attr("y1", p.y(0)).attr("y2", p.y(0))
    .attr("stroke", "#222").attr("stroke-width", 0.9).attr("stroke-dasharray", "4,3");
});

// ---------- rows 3-5: contribution functions ----------
var pDom = [2.5, -4.1];
var pA = makePanel(2, 0, pDom, [-2, 0, 2], "d", 0.5);
contrib(pA, lamK1, h2oA_bOut1, h2oA_rOut1, h2oA_bIn2, h2oA_rOut2, lamK1, h2oA_bIn1, h2oA_bIn2, h2oA_rIn1, h2oA_rIn2, h2oA_rIn1);
cloudBand(pA);
var pB = makePanel(2, 1, pDom, [-2, 0, 2], "d", 0.5);
contrib(pB, lamK2, h2oB_bOut1, h2oB_rOut1, h2oB_bIn2, h2oB_rOut2, lamK2, h2oB_bIn1, h2oB_bIn2, h2oB_rIn1, h2oB_rIn2);
var pC = makePanel(2, 2, pDom, [-2, 0, 2], "d", 0.5);
contrib(pC, lamK3, h2oC_bOut1, h2oC_rOut1, h2oC_bIn2, h2oC_rOut2, lamK3, h2oC_bIn1, h2oC_bIn2, h2oC_rIn1, h2oC_rIn2);

var qA = makePanel(3, 0, pDom, [-2, 0, 2], "d", 0.5);
qA.g.selectAll(null).data(coA_lam).enter().append("rect")
  .attr("x", function(d) { return qA.x(d) - 0.8; })
  .attr("y", function(d, i) { return qA.y(coA_top[i]); })
  .attr("width", 1.6)
  .attr("height", function(d, i) { return qA.y(coA_bot[i]) - qA.y(coA_top[i]); })
  .attr("fill", "#a3b3da");
coA_lam.forEach(function(d, i) {
  if (coA_red[i] == null) return;
  qA.g.append("rect")
    .attr("x", qA.x(d) - 0.8).attr("y", qA.y(coA_bot[i]))
    .attr("width", 1.6).attr("height", qA.y(coA_red[i]) - qA.y(coA_bot[i]))
    .attr("fill", "#e6a5a8");
});
cloudBand(qA);
var qB = makePanel(3, 1, pDom, [-2, 0, 2], "d", 0.5);
contrib(qB, coB_lam, coB_bOut1, coB_rOut1, coB_bOut2, coB_rOut2);
var qC = makePanel(3, 2, pDom, [-2, 0, 2], "d", 0.5);
contrib(qC, coC_lam, coC_bOut1, coC_rOut1, coC_bOut2, coC_rOut2, coC_lam, coC_bIn1, coC_bIn2, coC_rIn1, coC_rIn2);

var sA = makePanel(4, 0, pDom, [-2, 0, 2], "d", 0.5);
contrib(sA, co2A_lam, co2A_bOut1, co2A_rOut1, co2A_bOut2, co2A_rOut2);
cloudBand(sA);
var sB = makePanel(4, 1, pDom, [-2, 0, 2], "d", 0.5);
contrib(sB, lamK2, co2B_bOut1, co2B_rOut1, co2B_bOut2, co2B_rOut2, co2B_lamIn, co2B_bIn1, co2B_bIn2, co2B_rIn1, co2B_rIn2);
var sC = makePanel(4, 2, pDom, [-2, 0, 2], "d", 0.5);
contrib(sC, lamK3, co2C_bOut1, co2C_rOut1, co2C_bOut2, co2C_rOut2, lamK3, co2C_bIn1, co2C_bIn2, co2C_rIn1, co2C_rIn2);

// species labels
var spec = [["H", "2", "O contribution"], ["CO contribution"], ["CO", "2", " contribution"]];
spec.forEach(function(s, i) {
  var t = svg.append("text").attr("x", 40).attr("y", rows[i + 2].y1 - 7)
    .attr("font-size", 13).attr("fill", "#222").text(s[0]);
  if (s.length > 1) {
    t.append("tspan").attr("dy", 3).attr("font-size", 9.5).text(s[1]);
    t.append("tspan").attr("dy", -3).text(s[2]);
  }
});

// ---------- axis titles ----------
var fl = svg.append("text")
  .attr("transform", "translate(14,74) rotate(-90)")
  .attr("text-anchor", "middle").attr("font-size", 15).attr("fill", "#222")
  .text("Flux (erg s");
fl.append("tspan").attr("dy", -5).attr("font-size", 10.5).text("\u22121");
fl.append("tspan").attr("dy", 5).text(" cm");
fl.append("tspan").attr("dy", -5).attr("font-size", 10.5).text("\u22123");
fl.append("tspan").attr("dy", 5).text(")");

svg.append("text")
  .attr("transform", "translate(11,185) rotate(-90)")
  .attr("text-anchor", "middle").attr("font-size", 10).attr("fill", "#222")
  .text("Residual/")
  .append("tspan").attr("font-style", "italic").text("\u03c3");

var lg = svg.append("text")
  .attr("transform", "translate(15,392) rotate(-90)")
  .attr("text-anchor", "middle").attr("font-size", 15).attr("fill", "#222")
  .text("log");
lg.append("tspan").attr("dy", 3.5).attr("font-size", 10.5).text("10");
lg.append("tspan").attr("dy", -3.5).text("\u2009(");
lg.append("tspan").attr("font-style", "italic").text("P");
lg.append("tspan").text("/bar)");

svg.append("text")
  .attr("x", 485).attr("y", 572)
  .attr("text-anchor", "middle").attr("font-size", 14).attr("fill", "#222")
  .attr("font-style", "italic")
  .text("\u03bb(\u03bcm)");
</script>
</body>
</html>
